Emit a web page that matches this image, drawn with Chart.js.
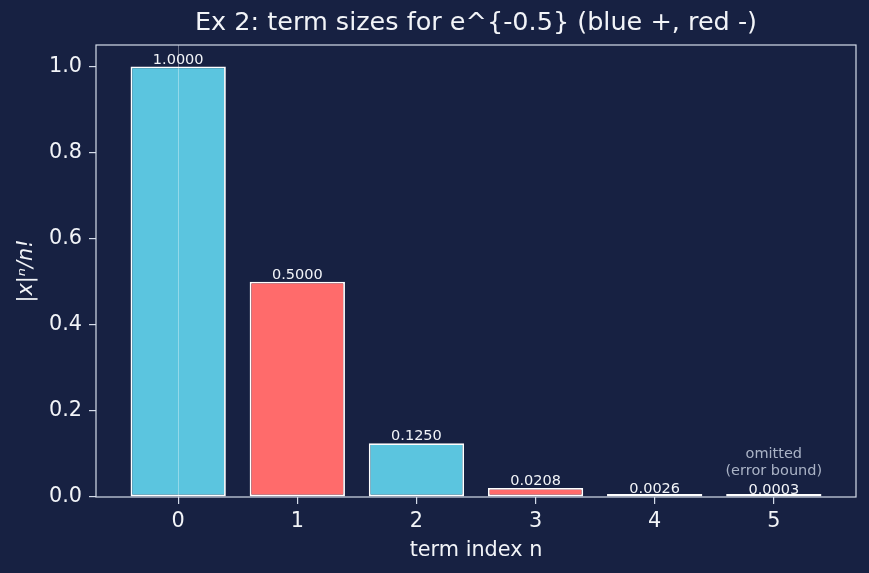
<!DOCTYPE html>
<html>
<head>
<meta charset="utf-8">
<script src="https://cdn.jsdelivr.net/npm/chart.js@4"></script>
<style>
  html, body { margin: 0; padding: 0; background: #172142; }
  canvas { display: block; }
</style>
</head>
<body>
<canvas id="chart" width="869" height="573"></canvas>
<script>
// data
const termIndex = [0, 1, 2, 3, 4, 5];
const termSize = [1.0, 0.5, 0.125, 0.0208, 0.0026, 0.0003];
const termSign = [1, -1, 1, -1, 1, -1];
const yTicks = [0, 0.2, 0.4, 0.6, 0.8, 1.0];
const omittedNote = ["omitted", "(error bound)"];
const chartTitle = "Ex 2: term sizes for e^{-0.5} (blue +, red -)";

const bg = "#172142";
const cyan = "#5bc5df";
const red = "#ff6b6b";
const frame = "#d4dcea";
const txt = "#f2f4f8";
const FONT = "'DejaVu Sans', sans-serif";

// background, title, frame, x=0 line, value labels
const decor = {
  id: "decor",
  beforeDraw(chart) {
    const c = chart.ctx;
    c.save();
    c.fillStyle = bg;
    c.fillRect(0, 0, chart.width, chart.height);
    c.restore();
  },
  afterDatasetsDraw(chart) {
    const c = chart.ctx;
    const a = chart.chartArea;
    const xs = chart.scales.x, ys = chart.scales.y;
    c.save();
    // title, centred over the plot area
    c.fillStyle = txt;
    c.font = "25.5px " + FONT;
    c.textAlign = "center";
    c.textBaseline = "middle";
    c.fillText(chartTitle, (a.left + a.right) / 2, 23);

    // faint vertical line at x = 0
    const x0 = Math.round(xs.getPixelForValue(0)) + 0.5;
    c.strokeStyle = "rgba(255,255,255,0.35)";
    c.lineWidth = 1;
    c.beginPath();
    c.moveTo(x0, a.top);
    c.lineTo(x0, a.bottom);
    c.stroke();

    // value labels
    c.font = "14.5px " + FONT;
    c.textBaseline = "alphabetic";
    termIndex.forEach((n, i) => {
      const px = xs.getPixelForValue(n);
      const py = ys.getPixelForValue(termSize[i]);
      c.fillText(termSize[i].toFixed(4), px, py - 3);
    });

    // note above the omitted term
    const last = termIndex.length - 1;
    const nx = xs.getPixelForValue(termIndex[last]);
    const ny = ys.getPixelForValue(termSize[last]);
    c.fillStyle = "#aab3c6";
    c.fillText(omittedNote[1], nx, ny - 22);
    c.fillText(omittedNote[0], nx, ny - 39);

    // plot frame
    c.strokeStyle = frame;
    c.lineWidth = 1.2;
    c.strokeRect(a.left, a.top, a.right - a.left, a.bottom - a.top);
    c.restore();
  }
};

new Chart(document.getElementById("chart"), {
  type: "bar",
  data: {
    datasets: [{
      data: termIndex.map((n, i) => ({ x: n, y: termSize[i] })),
      backgroundColor: termSign.map(s => (s > 0 ? cyan : red)),
      borderColor: "#ffffff",
      borderWidth: 1.8,
      borderSkipped: false,
      minBarLength: 3,
      barPercentage: 1,
      categoryPercentage: 0.8
    }]
  },
  options: {
    responsive: false,
    devicePixelRatio: 1,
    animation: false,
    layout: { padding: { left: 0, right: 13, top: 45, bottom: 0 } },
    plugins: {
      legend: { display: false },
      tooltip: { enabled: false },
      title: { display: false }
    },
    scales: {
      x: {
        type: "linear",
        offset: false,
        min: -0.69,
        max: 5.69,
        afterBuildTicks: s => { s.ticks = termIndex.map(v => ({ value: v })); },
        afterFit: s => { s.height = 76; },
        ticks: {
          color: txt,
          font: { family: FONT, size: 20.8 },
          padding: 5,
          maxRotation: 0,
          callback: v => String(v)
        },
        grid: { offset: false, drawOnChartArea: false, drawTicks: true, tickLength: 7, color: frame, lineWidth: 1.2 },
        border: { display: false },
        title: {
          display: true,
          text: "term index n",
          color: txt,
          font: { family: FONT, size: 20.8 },
          padding: { top: 0, bottom: 10 }
        }
      },
      y: {
        min: 0,
        max: 1.05,
        afterBuildTicks: s => { s.ticks = yTicks.map(v => ({ value: v })); },
        afterFit: s => { s.width = 96; },
        ticks: {
          color: txt,
          font: { family: FONT, size: 20.8 },
          padding: 7,
          callback: v => Number(v).toFixed(1)
        },
        grid: { drawOnChartArea: false, drawTicks: true, tickLength: 7, color: frame, lineWidth: 1.2 },
        border: { display: false },
        title: {
          display: true,
          text: "|x|ⁿ/n!",
          color: txt,
          font: { family: FONT, size: 20.8, style: "italic" },
          padding: { top: 14, bottom: 0 }
        }
      }
    }
  },
  plugins: [decor]
});
</script>
</body>
</html>
